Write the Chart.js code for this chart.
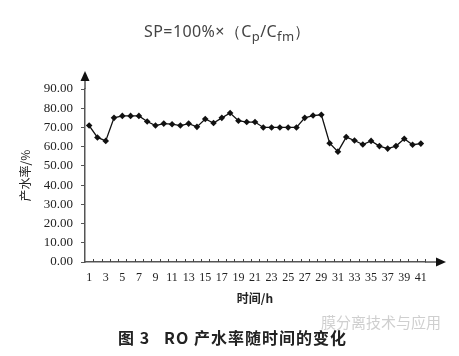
<!DOCTYPE html>
<html>
<head>
<meta charset="utf-8">
<script src="https://cdn.jsdelivr.net/npm/chart.js@4/dist/chart.umd.min.js"></script>
<style>
  html, body { margin: 0; padding: 0; background: #fff; }
  #wrap { position: relative; width: 459px; height: 356px; overflow: hidden; }
  #c { position: absolute; left: 0; top: 0; }
  .txt { position: absolute; white-space: nowrap; }
  #formula { left: 0; width: 455px; top: 20px; text-align: center; font-family: "Noto Sans", "DejaVu Sans", sans-serif; font-size: 16px; color: #444; letter-spacing: 0.4px; }
  #formula sub { font-size: 13px; vertical-align: -4px; line-height: 0; }
  #caption { left: 0; width: 465px; top: 325px; text-align: center; font-family: "Noto Sans CJK SC", sans-serif; font-weight: bold; font-size: 16px; color: #222; letter-spacing: 1px; }
  #wm { left: 321px; top: 311px; font-family: "Noto Sans CJK SC", sans-serif; font-size: 15px; color: #cfcfcf; }
</style>
</head>
<body>
<div id="wrap">
  <canvas id="c" width="459" height="356"></canvas>
  <div class="txt" id="formula">SP=100%×（C<sub>p</sub>/C<sub>fm</sub>）</div>
  <div class="txt" id="wm">膜分离技术与应用</div>
  <div class="txt" id="caption">图 3&nbsp;&nbsp;&nbsp;RO 产水率随时间的变化</div>
</div>
<script>
const hours = [1,2,3,4,5,6,7,8,9,10,11,12,13,14,15,16,17,18,19,20,21,22,23,24,25,26,27,28,29,30,31,32,33,34,35,36,37,38,39,40,41];
const waterRecovery = [71.0,64.8,63.0,75.0,76.0,76.0,76.0,73.1,71.0,72.0,71.7,71.0,72.0,70.3,74.4,72.3,75.0,77.5,73.5,72.8,72.8,70.0,70.0,70.0,70.0,70.0,75.0,76.2,76.6,61.8,57.4,65.0,63.2,61.1,63.0,60.3,59.0,60.3,64.1,61.0,61.6];
const xTickLabels = ["1","","3","","5","","7","","9","","11","","13","","15","","17","","19","","21","","23","","25","","27","","29","","31","","33","","35","","37","","39","","41"];
const yTicks = [0,10,20,30,40,50,60,70,80,90];
const yTitle = "产水率/%";
const xTitle = "时间/h";

const axisColor = "#555";

const arrowsPlugin = {
  id: 'arrows',
  afterDraw(chart) {
    const ctx = chart.ctx;
    const xs = chart.scales.x, ys = chart.scales.y;
    const left = xs.left, right = xs.right, bottom = ys.bottom, top = ys.top;
    ctx.save();
    ctx.strokeStyle = axisColor;
    ctx.fillStyle = "#111";
    ctx.lineWidth = 1.5;
    ctx.beginPath();
    ctx.moveTo(left, top);
    ctx.lineTo(left, top - 12);
    ctx.stroke();
    ctx.beginPath();
    ctx.moveTo(left, top - 18);
    ctx.lineTo(left - 4.5, top - 8);
    ctx.lineTo(left + 4.5, top - 8);
    ctx.closePath();
    ctx.fill();
    ctx.beginPath();
    ctx.moveTo(right, bottom);
    ctx.lineTo(right + 14, bottom);
    ctx.stroke();
    ctx.beginPath();
    ctx.moveTo(right + 21, bottom);
    ctx.lineTo(right + 11, bottom - 4.5);
    ctx.lineTo(right + 11, bottom + 4.5);
    ctx.closePath();
    ctx.fill();
    ctx.lineWidth = 1;
    ctx.strokeStyle = "#444";
    const n = hours.length;
    const step = (right - left) / n;
    for (let i = 1; i <= n; i++) {
      const x = Math.round(left + i * step) + 0.5;
      ctx.beginPath();
      ctx.moveTo(x, bottom);
      ctx.lineTo(x, bottom - 3);
      ctx.stroke();
    }
    ctx.restore();
  }
};

new Chart(document.getElementById('c'), {
  type: 'line',
  data: {
    labels: hours,
    datasets: [{
      data: waterRecovery,
      borderColor: '#111',
      borderWidth: 1.3,
      pointStyle: 'rectRot',
      pointRadius: 3.3,
      pointBackgroundColor: '#111',
      pointBorderColor: '#111',
      pointBorderWidth: 0,
      tension: 0,
      fill: false
    }]
  },
  options: {
    responsive: false,
    animation: false,
    devicePixelRatio: 1,
    layout: { padding: { top: 89, right: 34, bottom: 50, left: 0 } },
    plugins: { legend: { display: false }, tooltip: { enabled: false } },
    scales: {
      x: {
        type: 'category',
        offset: true,
        grid: { display: true, drawOnChartArea: false, drawTicks: false, color: 'rgba(0,0,0,0)' },
        border: { display: true, color: axisColor, width: 1.5 },
        ticks: {
          autoSkip: false, maxRotation: 0, minRotation: 0, padding: 9,
          color: '#222',
          font: { family: 'Liberation Serif', size: 12 },
          callback: (v, i) => xTickLabels[i]
        },
        title: {
          display: true, text: xTitle, color: '#222',
          font: { family: 'Noto Sans CJK SC', size: 12, weight: 'bold' },
          padding: { top: 4, bottom: 0 }
        },
        afterFit(scale) { scale.height = 44; }
      },
      y: {
        min: 0, max: 90,
        afterBuildTicks(scale) { scale.ticks = yTicks.map(v => ({ value: v })); },
        grid: { display: true, drawOnChartArea: false, drawTicks: true, tickLength: 4, color: axisColor, tickWidth: 1 },
        border: { display: true, color: axisColor, width: 1.5 },
        ticks: {
          padding: 8, color: '#222',
          font: { family: 'Liberation Serif', size: 13 },
          callback: v => Number(v).toFixed(2)
        },
        title: {
          display: true, text: yTitle, color: '#222',
          font: { family: 'Noto Sans CJK SC', size: 12 },
          padding: { top: 18, bottom: 0 }
        },
        afterFit(scale) { scale.width = 85; }
      }
    }
  },
  plugins: [arrowsPlugin]
});
</script>
</body>
</html>
